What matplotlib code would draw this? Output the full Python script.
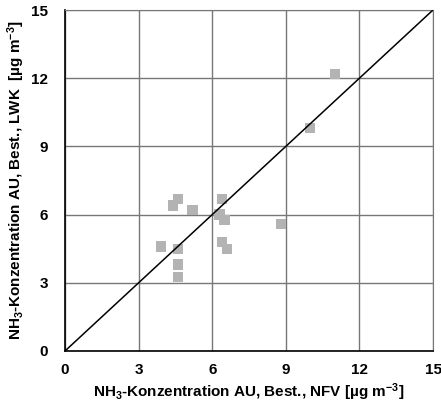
import numpy as np
import matplotlib
matplotlib.use("Agg")
import matplotlib.pyplot as plt

plt.rcParams['font.family'] = ['Liberation Sans', 'DejaVu Sans']
plt.rcParams['mathtext.fontset'] = 'custom'
plt.rcParams['mathtext.rm'] = 'Liberation Sans:bold'
plt.rcParams['mathtext.it'] = 'Liberation Sans:bold'
plt.rcParams['mathtext.bf'] = 'Liberation Sans:bold'
plt.rcParams['mathtext.default'] = 'bf'

# NFV (x) vs LWK (y), NH3 concentrations
nfv = [3.9, 4.4, 4.6, 5.2, 4.6, 4.6, 4.6, 6.4, 6.3, 6.5, 6.4, 6.6, 8.8, 10.0, 11.0]
lwk = [4.6, 6.4, 6.7, 6.2, 4.5, 3.8, 3.25, 6.7, 6.0, 5.75, 4.8, 4.5, 5.6, 9.8, 12.2]
ticks = [0, 3, 6, 9, 12, 15]

fig = plt.figure(figsize=(4.41, 4.05), dpi=100)
ax = fig.add_axes([65 / 441, 1 - 351 / 405, 368 / 441, 341 / 405])

ax.set_xlim(0, 15)
ax.set_ylim(0, 15)
ax.set_xticks(ticks)
ax.set_yticks(ticks)
ax.grid(True, color='#777777', linewidth=1.0)
ax.set_axisbelow(True)

ax.scatter(nfv, lwk, marker='s', s=55, color='#b3b3b3', edgecolors='none', zorder=3)
ax.plot([0, 15], [0, 15], color='black', linewidth=1.1, zorder=4)

for side in ['top', 'right']:
    ax.spines[side].set_color('#777777')
for side in ['left', 'bottom']:
    ax.spines[side].set_color('black')
    ax.spines[side].set_linewidth(1.2)

ax.tick_params(axis='x', length=0, pad=9, labelsize=11)
ax.tick_params(axis='y', length=0, pad=12, labelsize=11)
for lab in ax.get_xticklabels() + ax.get_yticklabels():
    lab.set_fontweight('bold')

ax.set_xlabel(r'NH$_3$-Konzentration AU, Best., NFV [µg m$^{-3}$]',
              fontsize=11, fontweight='bold', labelpad=3)
ax.set_ylabel(r'NH$_3$-Konzentration AU, Best., LWK  [µg m$^{-3}$]',
              fontsize=11, fontweight='bold', labelpad=3)

fig.savefig('out.png', dpi=100)
